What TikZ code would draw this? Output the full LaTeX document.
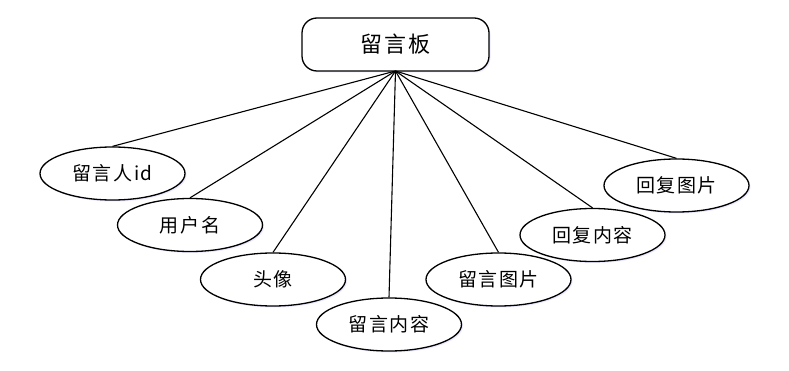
\documentclass[tikz,border=0pt]{standalone}
\usepackage{fontspec}
\setmainfont{Noto Sans CJK SC}
\newfontfamily\cjkT[LetterSpace=10]{Noto Sans CJK SC}
\newfontfamily\cjkE[LetterSpace=8]{Noto Sans CJK SC}
\usetikzlibrary{shapes.geometric,shadows}
\begin{document}
\begin{tikzpicture}[x=1pt,y=-1pt,
  attr/.style={ellipse,draw=black,line width=1.3pt,fill=white,minimum width=145pt,minimum height=53pt,inner sep=0pt,
    font=\cjkE\fontsize{19}{19}\selectfont,
    drop shadow={shadow xshift=1.5pt,shadow yshift=-1.5pt,fill=blue!25,opacity=0.35}},
  ent/.style={rectangle,rounded corners=15pt,draw=black,line width=1.3pt,fill=white,minimum width=187pt,minimum height=53pt,inner sep=0pt,
    font=\cjkT\fontsize{22}{22}\selectfont,
    drop shadow={shadow xshift=1.5pt,shadow yshift=-1.5pt,fill=blue!25,opacity=0.35}},
  link/.style={line width=1.1pt,draw=black}]
\useasboundingbox (0,0) rectangle (789,371);
\node[ent] (board) at (395.5,44.5) {留言板};
\node[attr] (a1) at (112.5,173.5) {留言人id};
\node[attr] (a2) at (190,225) {用户名};
\node[attr] (a3) at (273,279.5) {头像};
\node[attr] (a4) at (389,324.5) {留言内容};
\node[attr] (a5) at (498.5,279.5) {留言图片};
\node[attr] (a6) at (592.5,235) {回复内容};
\node[attr] (a7) at (676.5,185.5) {回复图片};
\coordinate (hub) at (395.5,71);
\begin{scope}[on background layer/.style={}]
\end{scope}
\foreach \n in {a1,a2,a3,a4,a5,a6,a7}{
  \draw[link] (hub) -- (\n.north);
}
\end{tikzpicture}
\end{document}
